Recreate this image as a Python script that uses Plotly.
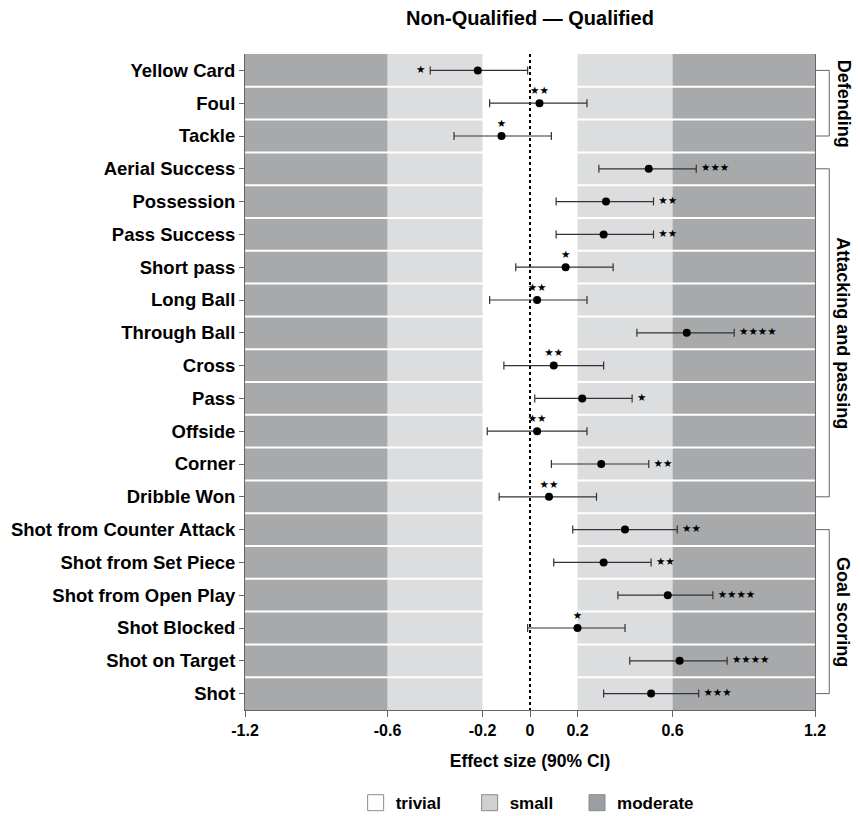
import plotly.graph_objects as go

categories = ["Yellow Card", "Foul", "Tackle", "Aerial Success", "Possession",
              "Pass Success", "Short pass", "Long Ball", "Through Ball", "Cross",
              "Pass", "Offside", "Corner", "Dribble Won", "Shot from Counter Attack",
              "Shot from Set Piece", "Shot from Open Play", "Shot Blocked",
              "Shot on Target", "Shot"]
effect = [-0.22, 0.04, -0.12, 0.50, 0.32, 0.31, 0.15, 0.03, 0.66, 0.10,
          0.22, 0.03, 0.30, 0.08, 0.40, 0.31, 0.58, 0.20, 0.63, 0.51]
ci_low = [-0.42, -0.17, -0.32, 0.29, 0.11, 0.11, -0.06, -0.17, 0.45, -0.11,
          0.02, -0.18, 0.09, -0.13, 0.18, 0.10, 0.37, -0.01, 0.42, 0.31]
ci_high = [-0.01, 0.24, 0.09, 0.70, 0.52, 0.52, 0.35, 0.24, 0.86, 0.31,
           0.43, 0.24, 0.50, 0.28, 0.62, 0.51, 0.77, 0.40, 0.83, 0.71]
stars = ["*", "**", "*", "***", "**", "**", "*", "**", "****", "**",
         "*", "**", "**", "**", "**", "**", "****", "*", "****", "***"]
groups = ["Defending"] * 3 + ["Attacking and passing"] * 11 + ["Goal scoring"] * 6
x_ticks = [-1.2, -0.6, -0.2, 0, 0.2, 0.6, 1.2]
x_tick_labels = ["-1.2", "-0.6", "-0.2", "0", "0.2", "0.6", "1.2"]
band_names = ["trivial", "small", "moderate"]
band_limits = [0.2, 0.6, 1.2]

band_colors = ["#ffffff", "#dcdddf", "#a7a9ab"]
legend_colors = ["#ffffff", "#cfd0d2", "#9b9ea3"]
legend_pad = [5, 4, 0]  # trailing spacing after legend labels
FONT = "Liberation Sans"

n = len(categories)
ypos = list(range(n))

fig = go.Figure()

# background bands
shapes = []
prev = 0.0
for lim, col in zip(band_limits, band_colors):
    for sgn in (-1, 1):
        a, b = sorted([sgn * prev, sgn * lim])
        shapes.append(dict(type="rect", xref="x", yref="y", x0=a, x1=b,
                           y0=-0.5, y1=n - 0.5, fillcolor=col,
                           line=dict(width=0), layer="below"))
    prev = lim
# white row separators
for k in range(1, n):
    shapes.append(dict(type="line", xref="x", yref="y", x0=-1.2, x1=1.2,
                       y0=k - 0.5, y1=k - 0.5, line=dict(color="white", width=2),
                       layer="below"))
# dotted zero line
shapes.append(dict(type="line", xref="x", yref="y", x0=0, x1=0, y0=-0.5,
                   y1=n - 0.5, line=dict(color="black", width=2, dash="dot"),
                   layer="below"))

# group brackets
annotations = []
seen = []
for g in groups:
    if g not in seen:
        seen.append(g)
for g in seen:
    idx = [i for i, gg in enumerate(groups) if gg == g]
    y0, y1 = idx[0], idx[-1]
    bx0, bx1 = 1.0, 1.025
    lc = dict(color="#666", width=1)
    shapes.append(dict(type="line", xref="paper", yref="y", x0=bx0, x1=bx1, y0=y0, y1=y0, line=lc))
    shapes.append(dict(type="line", xref="paper", yref="y", x0=bx1, x1=bx1, y0=y0, y1=y1, line=lc))
    shapes.append(dict(type="line", xref="paper", yref="y", x0=bx0, x1=bx1, y0=y1, y1=y1, line=lc))
    annotations.append(dict(x=1.05, xref="paper", y=(y0 + y1) / 2, yref="y",
                            xanchor="center", yanchor="middle",
                            text=g, textangle=90, showarrow=False,
                            font=dict(family=FONT, size=18, color="black", weight="bold")))

# points with error bars
fig.add_trace(go.Scatter(
    x=effect, y=ypos, mode="markers",
    marker=dict(color="black", size=8),
    error_x=dict(type="data", symmetric=False,
                 array=[h - e for h, e in zip(ci_high, effect)],
                 arrayminus=[e - l for e, l in zip(effect, ci_low)],
                 color="#333333", thickness=1.2, width=4),
    showlegend=False, hoverinfo="skip"))

# significance stars
def star_text(s):
    return "★" * len(s)

ax, ay, at = [], [], []
rx, ry, rt = [], [], []
lx, ly, lt = [], [], []
for i in range(n):
    t = star_text(stars[i])
    if ci_low[i] <= 0 <= ci_high[i]:
        ax.append(effect[i]); ay.append(i - 0.36); at.append(t)
    elif effect[i] > 0:
        rx.append(ci_high[i] + 0.02); ry.append(i); rt.append(t)
    else:
        lx.append(ci_low[i] - 0.02); ly.append(i); lt.append(t)

sf = dict(family="DejaVu Sans", size=10.5, color="black")
fig.add_trace(go.Scatter(x=ax, y=ay, mode="text", text=at, textposition="middle center",
                         textfont=sf, showlegend=False, hoverinfo="skip"))
fig.add_trace(go.Scatter(x=rx, y=ry, mode="text", text=rt, textposition="middle right",
                         textfont=sf, showlegend=False, hoverinfo="skip"))
fig.add_trace(go.Scatter(x=lx, y=ly, mode="text", text=lt, textposition="middle left",
                         textfont=sf, showlegend=False, hoverinfo="skip"))

# legend entries
for name, col, pad in zip(band_names, legend_colors, legend_pad):
    fig.add_trace(go.Scatter(x=[None], y=[None], mode="markers",
                             name=name + "\u00a0" * pad,
                             marker=dict(symbol="square", size=17, color=col,
                                         line=dict(color="#8a8a8a", width=1))))

fig.update_layout(
    width=860, height=816,
    margin=dict(l=237, r=53, t=46, b=114, autoexpand=False),
    paper_bgcolor="white", plot_bgcolor="white",
    shapes=shapes, annotations=annotations,
    title=dict(text="Non-Qualified — Qualified", x=0.5, xref="paper",
               y=1 - 10 / 816, yref="container", xanchor="center", yanchor="middle",
               font=dict(family=FONT, size=20, color="black", weight="bold")),
    legend=dict(orientation="h", x=0.495, xanchor="center", y=-0.142, yanchor="middle",
                xref="paper", yref="paper",
                font=dict(family=FONT, size=17, color="black", weight="bold")),
)
fig.update_xaxes(range=[-1.2, 1.2], tickvals=x_ticks, ticktext=x_tick_labels,
                 showgrid=False, zeroline=False, showline=True, linecolor="#666",
                 linewidth=1, ticks="outside", ticklen=6, tickcolor="#666",
                 tickfont=dict(family=FONT, size=16, color="black", weight="bold"),
                 title=dict(text="Effect size (90% CI)", standoff=16,
                            font=dict(family=FONT, size=17.5, color="black", weight="bold")))
fig.update_yaxes(range=[n - 0.5, -0.5], tickvals=ypos, ticktext=categories,
                 showgrid=False, zeroline=False, showline=True, linecolor="#666",
                 linewidth=1, mirror=True, ticks="outside", ticklen=5, tickcolor="#666",
                 tickfont=dict(family=FONT, size=18.5, color="black", weight="bold"))

fig.write_html("out.html")
